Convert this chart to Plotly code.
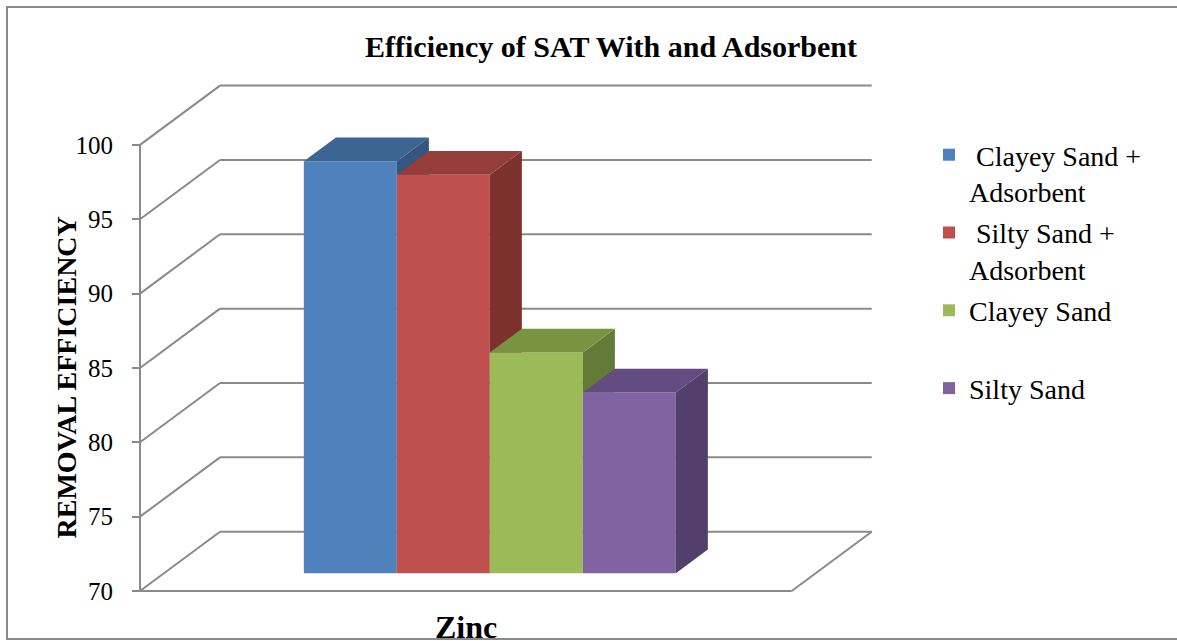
import plotly.graph_objects as go

# ---------------- data ----------------
categories = ["Zinc"]
series_names = ["Clayey Sand + Adsorbent", "Silty Sand + Adsorbent", "Clayey Sand", "Silty Sand"]
values = [97.7, 96.8, 84.85, 82.15]
y_ticks = [70, 75, 80, 85, 90, 95, 100]

front_colors = ["#4F81BD", "#C0504D", "#9BBB59", "#8064A2"]
top_colors = ["#3D6594", "#953D3B", "#789441", "#634C80"]
side_colors = ["#34567F", "#7D312F", "#647B37", "#523F6A"]

# ---------------- geometry / style ----------------
W, H = 1177, 641
L, R, T, B = 133, 297, 80, 47
PW, PH = W - L - R, H - T - B
SX, SY = 651.7, 14.87          # px per x unit / per value unit
X0, Y0 = 140, 591              # pixel of x=0 and of value 70 (front plane)
BASE = 70
x_range = [(L - X0) / SX, (W - R - X0) / SX]
y_range = [BASE - (H - B - Y0) / SY, BASE + (Y0 - T) / SY]
DX, DY = 80 / SX, 59.3 / SY      # full depth of the 3-D box in data units
F_FRONT, F_DEPTH = 0.3, 0.4      # bar front depth fraction, bar depth fraction
bar_w = 93 / SX
GRID = "#8a8a8a"
FONT = "Liberation Serif, Times New Roman, serif"


def px_x(px):
    return (px - L) / PW


def px_y(py):
    return (H - B - py) / PH


def legend_label(name):
    if "+ " in name:
        return " " + name.replace("+ ", "+<br>")
    return name + "<br>\u00a0"


fig = go.Figure()

n = len(values)
ddx, ddy = F_DEPTH * DX, F_DEPTH * DY
base_s = BASE + F_FRONT * DY
lefts = [0.5 - n * bar_w / 2 + i * bar_w + F_FRONT * DX for i in range(n)]

# front faces
for i in range(n):
    fig.add_trace(go.Bar(
        x=[lefts[i] + bar_w / 2], y=[values[i] - BASE], base=[base_s], width=[bar_w],
        marker=dict(color=front_colors[i], line=dict(width=0)),
        name=legend_label(series_names[i]), legendgroup=str(i),
        hovertext=[f"{categories[0]}: {values[i]}"], hoverinfo="text+name",
    ))

# side and top faces
for i in range(n):
    xl, xr = lefts[i], lefts[i] + bar_w
    v = values[i] + F_FRONT * DY
    low = base_s
    draw_side = True
    if i < n - 1:
        if values[i + 1] >= values[i]:
            draw_side = False
        else:
            low = values[i + 1] + F_FRONT * DY
    if draw_side:
        back_low = max(low, base_s + ddy)
        fig.add_trace(go.Scatter(
            x=[xr, xr, xr + ddx, xr + ddx, xr], y=[low, v, v + ddy, back_low, low],
            fill="toself", fillcolor=side_colors[i], mode="none",
            showlegend=False, hoverinfo="skip"))
    fig.add_trace(go.Scatter(
        x=[xl, xr, xr + ddx, xl + ddx, xl], y=[v, v, v + ddy, v + ddy, v],
        fill="toself", fillcolor=top_colors[i], mode="none",
        showlegend=False, hoverinfo="skip"))

# walls, floor, gridlines
shapes = []
line = dict(color=GRID, width=2)
for t in y_ticks:
    shapes.append(dict(type="line", xref="x", yref="y", x0=0, y0=t, x1=DX, y1=t + DY, line=line, layer="below"))
    shapes.append(dict(type="line", xref="x", yref="y", x0=DX, y0=t + DY, x1=1 + DX, y1=t + DY, line=line, layer="below"))
shapes.append(dict(type="line", xref="x", yref="y", x0=0, y0=BASE, x1=1, y1=BASE, line=line, layer="below"))
shapes.append(dict(type="line", xref="x", yref="y", x0=1, y0=BASE, x1=1 + DX, y1=BASE + DY, line=line, layer="below"))
shapes.append(dict(type="line", xref="x", yref="y", x0=0, y0=BASE, x1=0, y1=y_ticks[-1], line=line, layer="below"))
# chart border
shapes.append(dict(type="rect", xref="paper", yref="paper", x0=px_x(7), y0=px_y(639), x1=px_x(1190), y1=px_y(7),
                   line=dict(color=GRID, width=2), layer="below"))

fig.update_layout(
    width=W, height=H,
    margin=dict(l=L, r=R, t=T, b=B, pad=0),
    paper_bgcolor="white", plot_bgcolor="white",
    barmode="overlay",
    shapes=shapes,
    title=dict(text="Efficiency of SAT With and Adsorbent", x=611 / W, xanchor="center",
               y=1 - 46 / H, yanchor="middle", xref="container", yref="container",
               font=dict(family=FONT, size=30, color="black", weight="bold")),
    xaxis=dict(range=x_range, visible=False, fixedrange=True),
    yaxis=dict(range=y_range, anchor="free", position=px_x(X0), tickvals=y_ticks,
               ticks="outside", ticklen=8, tickwidth=2, tickcolor=GRID,
               showline=False, showgrid=False, zeroline=False, ticklabelstandoff=14,
               tickfont=dict(family=FONT, size=25, color="black")),
    legend=dict(x=px_x(929), y=px_y(130), xanchor="left", yanchor="top",
                font=dict(family=FONT, size=28, color="black"), valign="top",
                tracegroupgap=2, bgcolor="rgba(0,0,0,0)"),
    annotations=[
        dict(text="REMOVAL EFFICIENCY", textangle=-90, xref="paper", yref="paper",
             x=px_x(66), y=px_y(377.5), xanchor="center", yanchor="middle", showarrow=False,
             font=dict(family=FONT, size=28, color="black", weight="bold")),
        dict(text=categories[0], xref="paper", yref="paper", x=px_x(466), y=px_y(627),
             xanchor="center", yanchor="middle", showarrow=False,
             font=dict(family=FONT, size=32, color="black", weight="bold")),
    ],
)

fig.write_html("out.html", config={"displayModeBar": False},
               post_script="document.body.style.margin='0';")
